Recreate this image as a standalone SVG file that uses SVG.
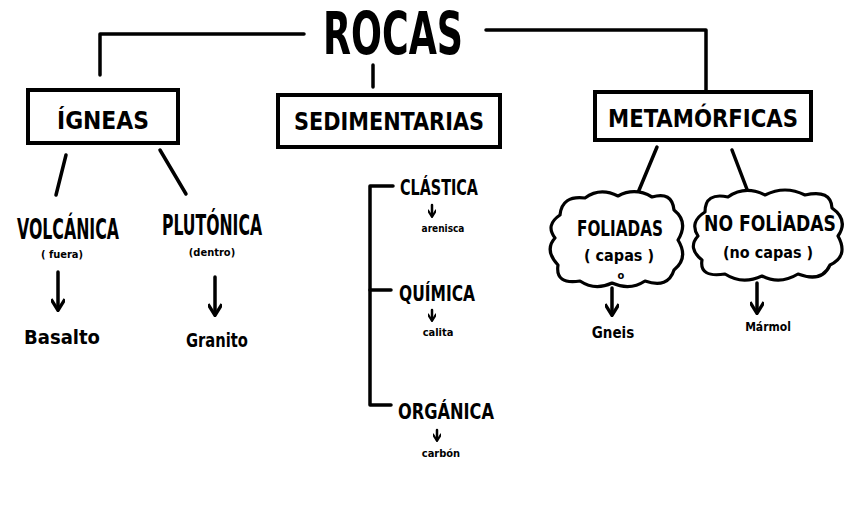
<svg xmlns="http://www.w3.org/2000/svg" width="848" height="530" viewBox="0 0 848 530">
<defs>
<style>
.ln{stroke:#000;stroke-width:3.5;fill:none;stroke-linecap:round;stroke-linejoin:round}
.thin{stroke:#000;stroke-width:2.5;fill:none;stroke-linecap:round}
.box{fill:#fff;stroke:#000;stroke-width:4}
.cloud{fill:#fff;stroke:#000;stroke-width:3.2;stroke-linejoin:round}
text{font-family:"DejaVu Sans Condensed","DejaVu Sans",sans-serif;fill:#000;text-anchor:middle}
.t1{font-size:58px;font-weight:bold}
.h{font-size:24px;font-weight:bold}
.h2{font-size:28px;font-weight:bold}
.s{font-size:21px;font-weight:bold}
.sm{font-size:11px;font-weight:bold}
.mm{font-size:12px;font-weight:bold}
.tiny{font-size:10px;font-weight:bold}
.p{font-size:16px;font-weight:bold}
.leaf{font-size:20px;font-weight:bold}
.leaf2{font-size:15px;font-weight:bold}
</style>
<marker id="ah" viewBox="0 0 10 10" refX="8" refY="5" markerWidth="4" markerHeight="4" orient="auto" markerUnits="strokeWidth">
<path d="M1 0 L9 5 L1 10" fill="none" stroke="#000" stroke-width="2.4"/>
</marker>
<marker id="ahs" viewBox="0 0 10 10" refX="8" refY="5" markerWidth="3.5" markerHeight="3.5" orient="auto" markerUnits="strokeWidth">
<path d="M1 0 L9 5 L1 10" fill="none" stroke="#000" stroke-width="2.4"/>
</marker>
</defs>
<rect width="848" height="530" fill="#fff"/>
<g id="connectors">
<polyline class="ln" points="304,34 100,34 100,75"/>
<polyline class="ln" points="486,30 706,30 706,92"/>
<line class="ln" x1="373" y1="65" x2="373" y2="87"/>
<line class="ln" x1="66" y1="155" x2="56" y2="195"/>
<line class="ln" x1="160" y1="150" x2="186" y2="194"/>
<line class="ln" x1="58" y1="272" x2="58" y2="309" marker-end="url(#ah)"/>
<line class="ln" x1="215" y1="277" x2="215" y2="314" marker-end="url(#ah)"/>
<polyline class="ln" points="393,186 370,186 370,405 391,405"/>
<line class="ln" x1="370" y1="290" x2="391" y2="290"/>
<line class="thin" x1="432" y1="205" x2="432" y2="216" marker-end="url(#ahs)"/>
<line class="thin" x1="432" y1="310" x2="432" y2="320" marker-end="url(#ahs)"/>
<line class="thin" x1="437" y1="430" x2="437" y2="440" marker-end="url(#ahs)"/>
<line class="ln" x1="657" y1="147" x2="637" y2="195"/>
<line class="ln" x1="732" y1="150" x2="748" y2="192"/>
<line class="ln" x1="612" y1="288" x2="612" y2="314" marker-end="url(#ah)"/>
<line class="ln" x1="757" y1="283" x2="757" y2="312" marker-end="url(#ah)"/>
</g>
<g id="rocas"><text class="t1" x="393" y="54" textLength="140" lengthAdjust="spacingAndGlyphs">ROCAS</text></g>
<g id="igneas">
<rect class="box" x="28" y="90" width="150" height="53"/>
<text class="h" x="103" y="129" textLength="92" lengthAdjust="spacingAndGlyphs">ÍGNEAS</text>
</g>
<g id="sedimentarias">
<rect class="box" x="278" y="95" width="222" height="52"/>
<text class="h" x="389" y="130" textLength="190" lengthAdjust="spacingAndGlyphs">SEDIMENTARIAS</text>
</g>
<g id="metamorficas">
<rect class="box" x="595" y="92" width="216" height="48"/>
<text class="h" x="703" y="127" textLength="190" lengthAdjust="spacingAndGlyphs">METAMÓRFICAS</text>
</g>
<g id="volcanica">
<text class="h2" x="68" y="239" textLength="102" lengthAdjust="spacingAndGlyphs">VOLCÁNICA</text>
<text class="sm" x="62" y="258">( fuera)</text>
</g>
<g id="plutonica">
<text class="h2" x="212" y="235" textLength="100" lengthAdjust="spacingAndGlyphs">PLUTÓNICA</text>
<text class="sm" x="212" y="256">(dentro)</text>
</g>
<g id="basalto"><text class="leaf" x="62" y="344" textLength="76" lengthAdjust="spacingAndGlyphs">Basalto</text></g>
<g id="granito"><text class="leaf" x="217" y="347" textLength="62" lengthAdjust="spacingAndGlyphs">Granito</text></g>
<g id="clastica">
<text class="s" x="439" y="195" textLength="78" lengthAdjust="spacingAndGlyphs">CLÁSTICA</text>
<text class="tiny" x="443" y="232">arenisca</text>
</g>
<g id="quimica">
<text class="s" x="437" y="301" textLength="76" lengthAdjust="spacingAndGlyphs">QUÍMICA</text>
<text class="sm" x="438" y="336">calita</text>
</g>
<g id="organica">
<text class="s" x="446" y="419" textLength="96" lengthAdjust="spacingAndGlyphs">ORGÁNICA</text>
<text class="sm" x="441" y="457">carbón</text>
</g>
<g id="foliadas">
<path class="cloud" d="M560 215 Q562 195 585 198 Q600 187 618 196 Q635 187 652 197 Q672 191 674 210 Q689 222 678 240 Q689 258 674 270 Q668 289 645 281 Q630 291 612 283 Q595 291 580 281 Q555 285 558 265 Q544 250 555 238 Q545 225 560 215 Z"/>
<text class="s" x="620" y="236" textLength="86" lengthAdjust="spacingAndGlyphs">FOLIADAS</text>
<text class="p" x="619" y="261">( capas )</text>
<text class="sm" x="621" y="279">o</text>
</g>
<g id="nofoliadas">
<path class="cloud" d="M705 212 Q705 192 728 197 Q745 185 765 195 Q785 185 805 195 Q831 189 832 208 Q849 220 838 236 Q849 256 830 265 Q822 283 798 274 Q780 285 762 276 Q742 285 725 274 Q699 278 702 260 Q687 248 698 236 Q689 222 705 212 Z"/>
<text class="s" x="770" y="231" textLength="132" lengthAdjust="spacingAndGlyphs">NO FOLİADAS</text>
<text class="p" x="768" y="258">(no capas )</text>
</g>
<g id="gneis"><text class="leaf2" x="613" y="338">Gneis</text></g>
<g id="marmol"><text class="mm" x="768" y="331">Mármol</text></g>
</svg>
